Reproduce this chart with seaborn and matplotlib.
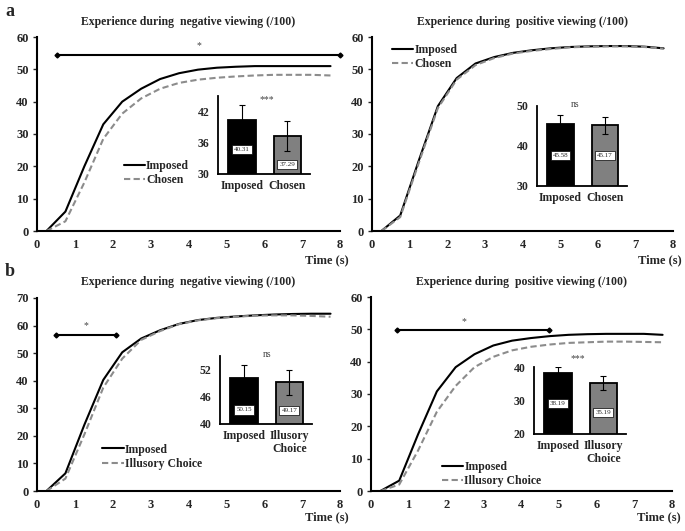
import numpy as np
import pandas as pd
import matplotlib
matplotlib.use("Agg")
import matplotlib.pyplot as plt
import seaborn as sns

# %% data
time_s = [0.25, 0.75, 1.25, 1.75, 2.25, 2.75, 3.25, 3.75,
          4.25, 4.75, 5.25, 5.75, 6.25, 6.75, 7.25, 7.75]

# a: imposed vs chosen
a_neg_imposed = [0, 6.0, 20.0, 33.0, 40.0, 44.0, 47.0, 48.8, 49.9, 50.5, 50.8, 51.0, 51.0, 51.0, 51.0, 51.0]
a_neg_chosen = [0, 3.0, 15.0, 28.5, 36.3, 41.0, 44.0, 45.8, 46.8, 47.4, 47.8, 48.1, 48.3, 48.3, 48.3, 48.1]
a_pos_imposed = [0, 4.8, 22.0, 38.6, 47.3, 51.8, 53.8, 55.1, 55.9, 56.5, 56.9, 57.1, 57.2, 57.2, 57.0, 56.5]
a_pos_chosen = [0, 4.3, 21.3, 38.0, 46.8, 51.3, 53.5, 54.9, 55.7, 56.3, 56.8, 57.0, 57.1, 57.1, 56.9, 56.4]

# b: imposed vs illusory choice
b_neg_imposed = [0, 6.4, 24.0, 40.3, 50.3, 55.3, 58.3, 60.6, 62.0, 62.8, 63.3, 63.7, 64.0, 64.2, 64.3, 64.3]
b_neg_illusory = [0, 4.5, 20.5, 37.5, 48.0, 54.8, 58.0, 60.5, 61.9, 62.7, 63.2, 63.6, 63.7, 63.7, 63.5, 63.2]
b_pos_imposed = [0, 3.2, 17.5, 30.8, 38.3, 42.3, 45.0, 46.5, 47.3, 47.9, 48.3, 48.5, 48.6, 48.6, 48.6, 48.3]
b_pos_illusory = [0, 2.0, 12.5, 24.5, 32.5, 38.3, 41.5, 43.5, 44.6, 45.3, 45.8, 46.0, 46.2, 46.2, 46.1, 46.0]

# inset bar means / errors
a_neg_means, a_neg_err = [40.31, 37.29], [3.0, 2.9]
a_pos_means, a_pos_err = [45.58, 45.17], [2.1, 2.1]
b_neg_means, b_neg_err = [50.15, 49.17], [2.8, 2.8]
b_pos_means, b_pos_err = [38.19, 35.19], [1.8, 2.1]

cats_a = ["Imposed", "Chosen"]
cats_b = ["Imposed", "Illusory\nChoice"]

# %% style
sns.set_style("ticks")
plt.rcParams['font.family'] = ['Liberation Serif', 'DejaVu Serif']
plt.rcParams['font.weight'] = 'bold'

W, H = 685, 531
fig = plt.figure(figsize=(W / 100, H / 100), dpi=100)
FS = 9
GRAY = "#8c8c8c"


def px_axes(left, top, right, bottom):
    # axes from pixel box
    return fig.add_axes([left / W, 1 - bottom / H, (right - left) / W, (bottom - top) / H])


def draw_curves(ax, imposed, other, other_name, ymax, title, leg_loc, time_y):
    df = pd.DataFrame({
        "time": time_s * 2,
        "value": imposed + other,
        "cond": ["Imposed"] * len(time_s) + [other_name] * len(time_s),
    })
    sns.lineplot(data=df, x="time", y="value", hue="cond", style="cond",
                 palette=["black", GRAY], dashes=["", (3, 1.6)],
                 linewidth=1.5, ax=ax, legend=True)
    ax.set_xlim(0, 8)
    ax.set_ylim(0, ymax)
    ax.set_xticks(range(0, 9))
    ax.set_yticks(range(0, ymax + 1, 10))
    ax.set_xlabel("")
    ax.set_ylabel("")
    sns.despine(ax=ax)
    for s in ["left", "bottom"]:
        ax.spines[s].set_linewidth(1.5)
        ax.spines[s].set_color("black")
    ax.tick_params(axis="x", length=0, pad=6, labelsize=FS)
    ax.tick_params(axis="y", length=3, width=1, pad=3, labelsize=FS)
    for lab in ax.get_xticklabels() + ax.get_yticklabels():
        lab.set_fontweight("bold")
    ax.set_title(title, fontsize=8.5, fontweight="bold", pad=9)
    ax.text(1.027, time_y, "Time (s)", transform=ax.transAxes, ha="right",
            va="center", fontsize=FS, fontweight="bold")
    ax.legend(loc=leg_loc[0], bbox_to_anchor=leg_loc[1], frameon=False,
              handlelength=1.8, handletextpad=0.1, labelspacing=0.2,
              borderaxespad=0, prop={"size": 8.5, "weight": "bold"})


def sig_bar(ax, x0, x1, y, xs, ys):
    ax.plot([x0, x1], [y, y], color="black", lw=1.5, marker="D", ms=2.5, clip_on=False)
    ax.text(xs, ys, "*", ha="center", va="center", fontsize=7, fontweight="normal", color="#444444")


def draw_inset(ax, cats, means, err, ylim, yticks, boxes, star, star_xy):
    sns.barplot(x=cats, y=means, hue=cats, palette=["black", "#808080"],
                edgecolor="black", linewidth=1.3, width=0.6, legend=False, ax=ax)
    ax.errorbar([0, 1], means, yerr=err, fmt="none", ecolor="black",
                elinewidth=0.8, capsize=2, capthick=0.8)
    ax.set_xlim(-0.53, 1.5)
    ax.set_ylim(*ylim)
    ax.set_yticks(yticks)
    ax.set_facecolor("none")
    sns.despine(ax=ax)
    for s in ["left", "bottom"]:
        ax.spines[s].set_linewidth(1.3)
        ax.spines[s].set_color("black")
    ax.tick_params(axis="both", length=0, labelsize=8.5)
    ax.tick_params(axis="x", pad=4)
    ax.tick_params(axis="y", pad=6)
    for lab in ax.get_xticklabels() + ax.get_yticklabels():
        lab.set_fontweight("bold")
    for i, (m, yb) in enumerate(zip(means, boxes)):
        ax.text(i, yb, f"{m:.2f}", ha="center", va="center", fontsize=5,
                fontweight="normal",
                bbox=dict(facecolor="white", edgecolor="black", linewidth=0.5, pad=1.5))
    ax.text(star_xy[0], star_xy[1], star, ha="center", va="center", fontsize=7,
            fontweight="normal", color="#444444", clip_on=False)


# %% panel a
ax1 = px_axes(37, 37, 340, 231)
draw_curves(ax1, a_neg_imposed, a_neg_chosen, "Chosen", 60,
            "Experience during  negative viewing (/100)", ("upper left", (0.27, 0.39)), -0.15)
sig_bar(ax1, 0.53, 8.0, 54.4, 4.27, 57.3)

ax2 = px_axes(372, 37, 673, 231)
draw_curves(ax2, a_pos_imposed, a_pos_chosen, "Chosen", 60,
            "Experience during  positive viewing (/100)", ("upper left", (0.05, 0.99)), -0.15)

ins1 = px_axes(218, 96, 310, 174)
draw_inset(ins1, cats_a, a_neg_means, a_neg_err, (30, 45), [30, 36, 42],
           [34.7, 31.8], "***", (0.55, 44.4))
ins2 = px_axes(537, 106, 627, 186)
draw_inset(ins2, cats_a, a_pos_means, a_pos_err, (30, 50), [30, 40, 50],
           [37.7, 37.7], "ns", (0.32, 50.3))

# %% panel b
ax3 = px_axes(37, 298, 340, 491)
draw_curves(ax3, b_neg_imposed, b_neg_illusory, "Illusory Choice", 70,
            "Experience during  negative viewing (/100)", ("upper left", (0.2, 0.27)), -0.135)
sig_bar(ax3, 0.5, 2.08, 56.7, 1.3, 60.0)

ax4 = px_axes(371, 297, 672, 491)
draw_curves(ax4, b_pos_imposed, b_pos_illusory, "Illusory Choice", 60,
            "Experience during  positive viewing (/100)", ("upper left", (0.22, 0.18)), -0.135)
sig_bar(ax4, 0.69, 4.74, 49.7, 2.46, 52.5)

ins3 = px_axes(220, 356, 312, 424)
draw_inset(ins3, cats_b, b_neg_means, b_neg_err, (40, 55), [40, 46, 52],
           [43.1, 43.0], "ns", (0.5, 55.4))
ins4 = px_axes(534, 367, 626, 434)
draw_inset(ins4, cats_b, b_pos_means, b_pos_err, (20, 40), [20, 30, 40],
           [29.2, 26.5], "***", (0.44, 42.6))

fig.text(5 / W, 1 - 11 / H, "a", fontsize=13, fontweight="bold", va="center")
fig.text(5 / W, 1 - 272 / H, "b", fontsize=13, fontweight="bold", va="center")

fig.savefig("out.png", dpi=100)
